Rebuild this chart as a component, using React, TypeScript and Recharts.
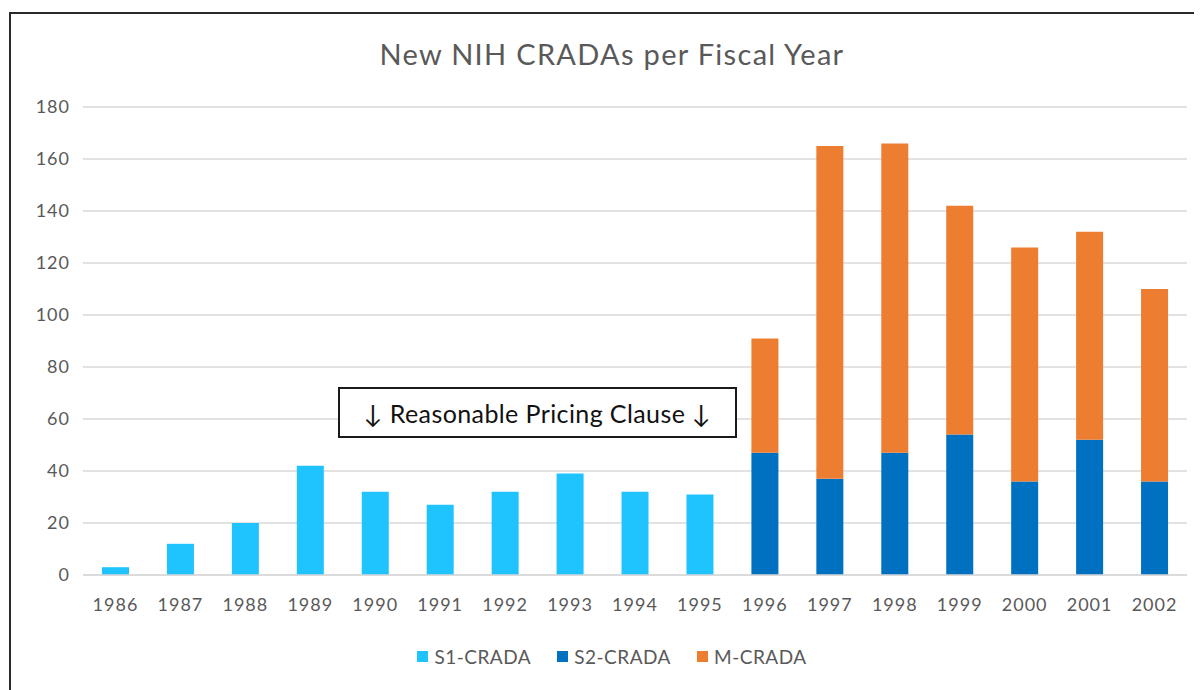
import { BarChart, Bar, XAxis, YAxis, CartesianGrid, Legend } from 'recharts';

const years = ['1986', '1987', '1988', '1989', '1990', '1991', '1992', '1993', '1994', '1995', '1996', '1997', '1998', '1999', '2000', '2001', '2002'];
const s1Crada = [3, 12, 20, 42, 32, 27, 32, 39, 32, 31, 0, 0, 0, 0, 0, 0, 0];
const s2Crada = [0, 0, 0, 0, 0, 0, 0, 0, 0, 0, 47, 37, 47, 54, 36, 52, 36];
const mCrada = [0, 0, 0, 0, 0, 0, 0, 0, 0, 0, 44, 128, 119, 88, 90, 80, 74];
const yTicks = [0, 20, 40, 60, 80, 100, 120, 140, 160, 180];

const seriesInfo = [
  { key: 's1', name: 'S1-CRADA', color: '#1FC4FF' },
  { key: 's2', name: 'S2-CRADA', color: '#0070C0' },
  { key: 'm', name: 'M-CRADA', color: '#ED7D31' },
];

const data = years.map((year, i) => ({
  year,
  s1: s1Crada[i],
  s2: s2Crada[i],
  m: mCrada[i],
}));

const FONT = 'Lato, "Open Sans", sans-serif';

const LegendContent = () => (
  <div style={{ display: 'flex', justifyContent: 'center', gap: 26, fontFamily: FONT, fontSize: 19, letterSpacing: 0.5, color: '#595959' }}>
    {seriesInfo.map(s => (
      <div key={s.key} style={{ display: 'flex', alignItems: 'center' }}>
        <span style={{ width: 11, height: 11, background: s.color, display: 'inline-block', marginRight: 6 }} />
        <span>{s.name}</span>
      </div>
    ))}
  </div>
);

const tickStyle = { fill: '#595959', fontSize: 18, fontFamily: FONT, letterSpacing: 1 };

export default function App() {
  return (
    <div style={{ position: 'relative', width: 1194, height: 682, overflow: 'hidden', background: '#fff' }}>
      <div
        style={{
          position: 'absolute',
          left: 1,
          top: 4,
          width: 1200,
          height: 700,
          borderLeft: '2px solid #2a2a2a',
          borderTop: '2px solid #2a2a2a',
          boxSizing: 'border-box',
        }}
      />
      <div
        style={{
          position: 'absolute',
          top: 28,
          left: 0,
          width: 1208,
          textAlign: 'center',
          fontFamily: FONT,
          fontSize: 29,
          letterSpacing: 1.3,
          color: '#595959',
        }}
      >
        New NIH CRADAs per Fiscal Year
      </div>
      <BarChart
        width={1194}
        height={682}
        data={data}
        margin={{ top: 99, right: 15, left: 0, bottom: 75 }}
      >
        <CartesianGrid vertical={false} stroke="#d9d9d9" strokeWidth={1.5} />
        <XAxis
          dataKey="year"
          axisLine={{ stroke: '#d9d9d9', strokeWidth: 1.5 }}
          tickLine={false}
          tickSize={0}
          tickMargin={23}
          height={40}
          interval={0}
          tick={tickStyle}
        />
        <YAxis
          domain={[0, 180]}
          ticks={yTicks}
          width={75}
          axisLine={false}
          tickLine={false}
          tickSize={0}
          tickMargin={13}
          tick={tickStyle}
        />
        <Legend
          verticalAlign="middle"
          align="center"
          content={<LegendContent />}
          wrapperStyle={{ top: 637, left: 0, width: 1208 }}
        />
        {seriesInfo.map(s => (
          <Bar
            key={s.key}
            dataKey={s.key}
            name={s.name}
            stackId="a"
            fill={s.color}
            barSize={27}
            isAnimationActive={false}
          />
        ))}
      </BarChart>
      <div
        style={{
          position: 'absolute',
          left: 330,
          top: 379,
          width: 399,
          height: 51,
          border: '2px solid #1a1a1a',
          boxSizing: 'border-box',
          display: 'flex',
          alignItems: 'center',
          justifyContent: 'center',
          background: '#fff',
          fontFamily: FONT,
          fontSize: 25,
          letterSpacing: 0.4,
          color: '#111',
        }}
      >
        ↓ Reasonable Pricing Clause ↓
      </div>
    </div>
  );
}
